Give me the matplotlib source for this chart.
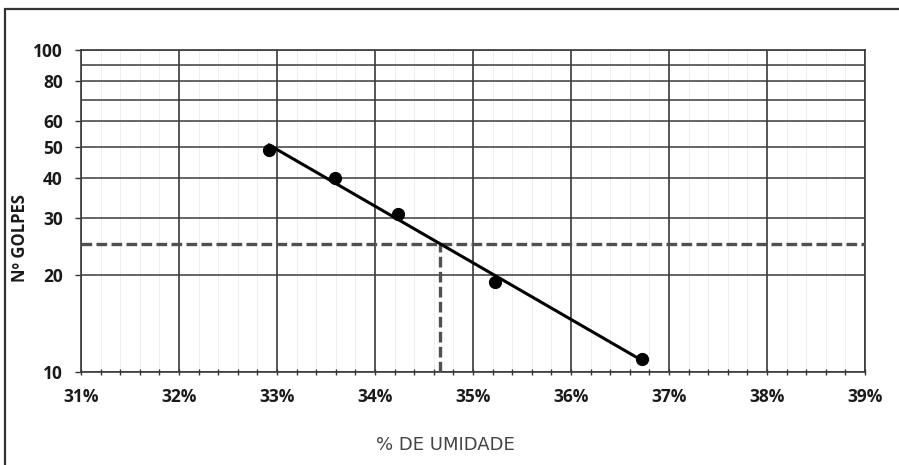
import numpy as np
import matplotlib.pyplot as plt
from matplotlib.ticker import FixedLocator, MultipleLocator, FuncFormatter, NullFormatter
from matplotlib.patches import Rectangle

# ensaio de limite de liquidez: umidade (%) x numero de golpes
umidade = [32.92, 33.59, 34.23, 35.22, 36.72]
golpes = [49, 40, 31, 19, 11]
golpes_ref = 25

x_ticks = [31, 32, 33, 34, 35, 36, 37, 38, 39]
y_ticks = [10, 20, 30, 40, 50, 60, 80, 100]
y_grid = [10, 20, 30, 40, 50, 60, 70, 80, 90, 100]

# reta de ajuste em escala log (tipo tendencia exponencial)
coef = np.polyfit(umidade, np.log10(golpes), 1)
x_fit = np.array([min(umidade), max(umidade)])
y_fit = 10 ** np.polyval(coef, x_fit)
ll = (np.log10(golpes_ref) - coef[1]) / coef[0]

fig = plt.figure(figsize=(8.99, 4.65), dpi=100)
ax = fig.add_axes([0.0901, 0.2, 0.8721, 0.6925])

ax.set_yscale('log')
ax.set_xlim(31, 39)
ax.set_ylim(10, 100)

# grade
for v in y_grid:
    ax.axhline(v, color='#4a4a4a', lw=1.2, zorder=1)
for v in np.arange(31, 39.01, 0.2):
    ax.axvline(v, color='#ebebeb', lw=0.6, zorder=0)
for v in x_ticks:
    ax.axvline(v, color='#3a3a3a', lw=1.2, zorder=1)

ax.xaxis.set_major_locator(FixedLocator(x_ticks))
ax.xaxis.set_minor_locator(MultipleLocator(0.2))
ax.xaxis.set_major_formatter(FuncFormatter(lambda v, p: '%d%%' % round(v)))
ax.yaxis.set_major_locator(FixedLocator(y_ticks))
ax.yaxis.set_minor_locator(FixedLocator([]))
ax.yaxis.set_major_formatter(FuncFormatter(lambda v, p: '%d' % round(v)))
ax.yaxis.set_minor_formatter(NullFormatter())

ax.tick_params(axis='x', which='both', direction='inout', length=5, width=1, color='#333333',
               labelsize=12.5, pad=9)
ax.tick_params(axis='y', which='major', direction='out', length=4, width=1, color='#333333',
               labelsize=12.5, pad=9)
for lab in ax.get_xticklabels() + ax.get_yticklabels():
    lab.set_fontfamily('Open Sans')
    lab.set_fontweight('bold')
    lab.set_color('#1a1a1a')

for s in ax.spines.values():
    s.set_color('#3a3a3a')
    s.set_linewidth(1.2)

# linhas de referencia em 25 golpes
ax.plot([31, 39], [golpes_ref, golpes_ref], color='#505050', lw=2.4, dashes=(3.2, 1.3), zorder=3)
ax.plot([ll, ll], [10, golpes_ref], color='#505050', lw=2.4, dashes=(3.2, 1.3), zorder=3)

ax.plot(x_fit, y_fit, color='black', lw=2.2, zorder=4)
ax.plot(umidade, golpes, 'o', color='black', ms=8.5, zorder=5)

fig.text(20 / 899, 1 - 238 / 465, 'Nº GOLPES', rotation=90, ha='center', va='center',
         fontsize=12, fontweight='bold', family='Open Sans', color='#1a1a1a')
fig.text(445 / 899, 1 - 445 / 465, '% DE UMIDADE', ha='center', va='center',
         fontsize=13, family=['Liberation Sans Narrow', 'DejaVu Sans'], color='#444444')

# moldura
fig.patches.append(Rectangle((5 / 899, -0.05), 1.0, 1 - 9 / 465 + 0.05, transform=fig.transFigure,
                             fill=False, edgecolor='#333333', lw=1.6))

fig.savefig('out.png', dpi=100)
